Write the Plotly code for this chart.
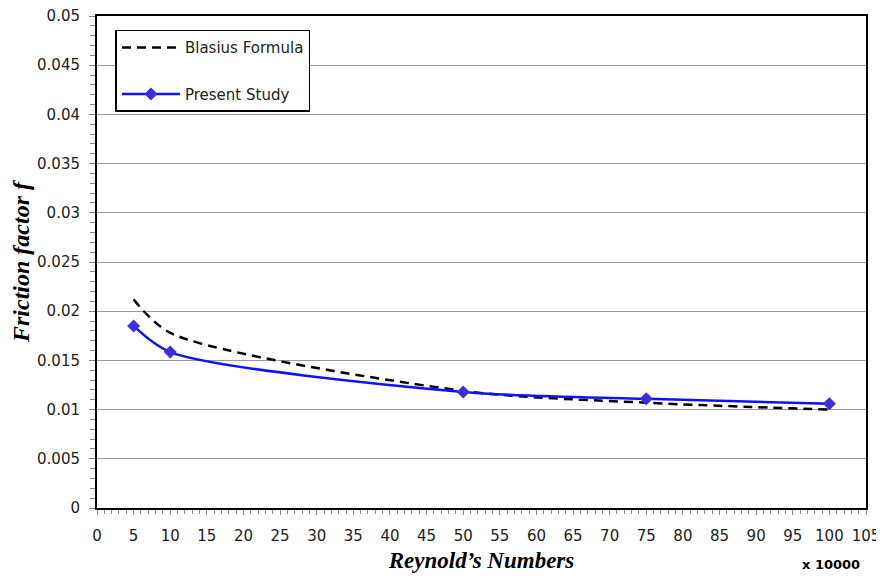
import plotly.graph_objects as go

reynolds_x10000 = [5, 10, 50, 75, 100]
blasius_f = [0.0212, 0.0178, 0.0119, 0.0107, 0.0100]
present_f = [0.0185, 0.01585, 0.0118, 0.0111, 0.0106]

fig = go.Figure()
fig.add_trace(go.Scatter(
    x=reynolds_x10000, y=blasius_f, mode="lines", name="Blasius Formula",
    line=dict(color="black", width=2.5, dash="9px,6px", shape="spline", smoothing=0.8),
    legendgroup="a",
))
fig.add_trace(go.Scatter(
    x=reynolds_x10000, y=present_f, mode="lines+markers", name="Present Study",
    line=dict(color="#1010ff", width=2.5, shape="spline", smoothing=0.8),
    marker=dict(symbol="diamond", size=10, color="#3a2ee0"),
    legendgroup="b",
))

fig.update_layout(
    width=884, height=566,
    margin=dict(l=89, r=26, t=8, b=66),
    plot_bgcolor="white", paper_bgcolor="white",
    font=dict(family="DejaVu Sans", size=15, color="#222"),
    showlegend=True,
    legend=dict(
        x=0.024, y=0.972, xanchor="left", yanchor="top",
        bordercolor="black", borderwidth=1.5, bgcolor="white",
        font=dict(family="DejaVu Sans", size=15, color="#222"),
        tracegroupgap=24, itemwidth=58,
    ),
    xaxis=dict(
        range=[0, 105], dtick=5, tick0=0, showgrid=False, zeroline=False, automargin=False,
        showline=True, linecolor="black", linewidth=2, mirror=True, ticklabeloverflow="allow",
        ticks="outside", ticklen=5, tickcolor="#888", ticklabelstandoff=8,
        minor=dict(dtick=1, ticks="outside", ticklen=4, tickcolor="#888", showgrid=False),
        title=dict(text="<b><i>Reynold’s Numbers</i></b>",
                   font=dict(family="Liberation Serif", size=23, color="black"), standoff=8),
    ),
    yaxis=dict(
        range=[0, 0.05], dtick=0.005, tick0=0, showgrid=True, gridcolor="#9a9a9a", gridwidth=1,
        zeroline=False, showline=True, linecolor="black", linewidth=2, mirror=True, automargin=False,
        ticklabeloverflow="allow",
        ticks="outside", ticklen=6, tickcolor="#888", ticklabelstandoff=6,
        minor=dict(dtick=0.001, ticks="outside", ticklen=5, tickcolor="#888", showgrid=False),
        title=dict(text="<b><i>Friction factor f</i></b>",
                   font=dict(family="Liberation Serif", size=24, color="black"), standoff=10),
    ),
)
fig.add_annotation(
    text="<b>x 10000</b>", xref="paper", yref="paper", x=0.955, y=-0.115,
    xanchor="center", yanchor="middle", showarrow=False,
    font=dict(family="DejaVu Sans", size=13, color="black"),
)
fig.write_html("out.html")
